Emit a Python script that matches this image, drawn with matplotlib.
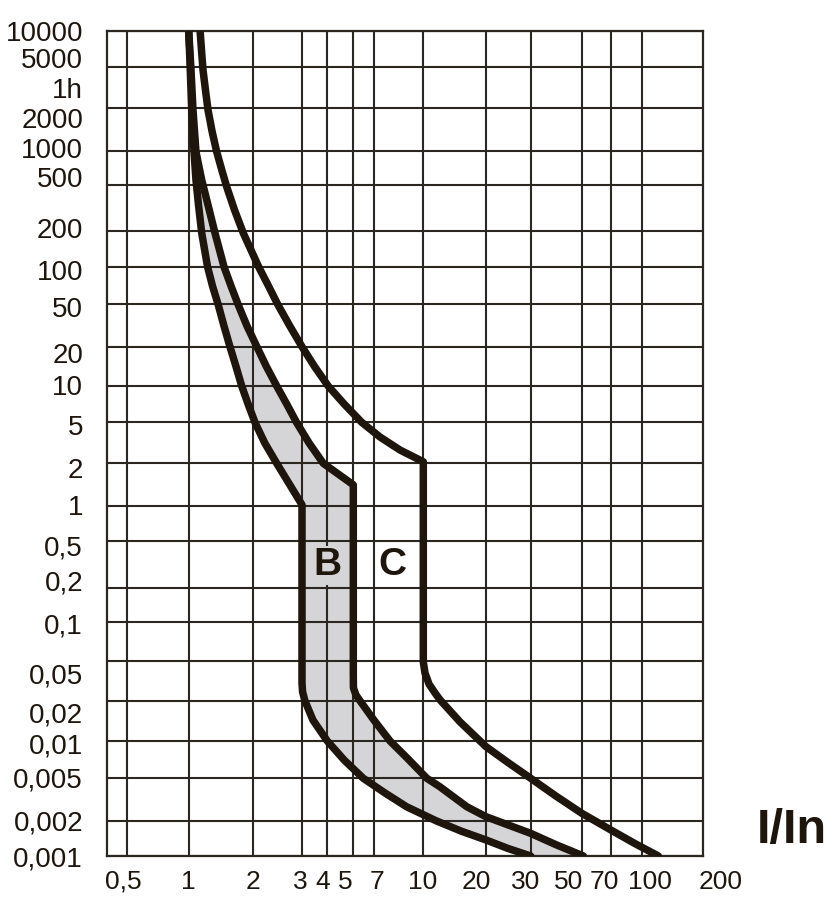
import numpy as np
import matplotlib
matplotlib.use('Agg')
import matplotlib.pyplot as plt

plt.rcParams['font.family'] = ['Liberation Sans', 'DejaVu Sans']

# tripping curves, I/In against seconds
b_low_x = [1.0, 1.017, 1.033, 1.059, 1.081, 1.111, 1.15, 1.224, 1.291, 1.374,
           1.46, 1.557, 1.661, 1.766, 1.89, 2.03, 2.2, 2.43, 3.0, 3.0,
           3.02, 3.1, 3.4, 4.0, 4.62, 5.88, 7.58, 8.87, 11.5, 15.2,
           20, 24.4, 30]
b_low_t = [10000, 4650, 1950, 980, 553, 335, 191, 100, 70, 49.2,
           31.3, 20, 14.1, 10, 7.1, 4.96, 3.15, 2, 1.02, 0.03,
           0.0245, 0.02, 0.0143, 0.01, 0.00703, 0.005, 0.00364, 0.0027, 0.002, 0.00163,
           0.00137, 0.00116, 0.001]

mid_x = [1.0, 1.025, 1.047, 1.081, 1.15, 1.23, 1.326, 1.46, 1.575, 1.703,
         1.869, 2.06, 2.23, 2.43, 2.64, 2.87, 3.25, 3.82, 5.0, 5.0,
         5.01, 5.22, 5.57, 7.0, 7.86, 8.89, 10.4, 12.0, 16.2, 20,
         30, 38.6, 51]
mid_t = [10000, 4650, 1950, 980, 553, 335, 191, 100, 70, 49.2,
         31.3, 20, 14.1, 10, 7.1, 4.96, 3.15, 2, 1.41, 0.0377,
         0.0268, 0.0228, 0.02, 0.0143, 0.01, 0.0073, 0.005, 0.00417, 0.0027, 0.00218,
         0.00156, 0.00125, 0.001]

c_x = [1.13, 1.147, 1.166, 1.197, 1.23, 1.284, 1.35, 1.422, 1.503, 1.635,
       1.796, 2.09, 2.27, 2.46, 2.71, 3.0, 3.46, 4.03, 4.62, 5.73,
       7.31, 8.45, 10, 10, 10.19, 10.65, 11.38, 12.03, 15.0, 20,
       24.4, 30, 38.6, 50, 70, 91, 115]
c_t = [10000, 6900, 4650, 2990, 1950, 1380, 980, 691, 483, 303,
       191, 100, 70, 49, 31.3, 20, 14.1, 10, 7.1, 5,
       3.6, 2.69, 2.07, 0.0485, 0.0377, 0.0293, 0.0239, 0.0204, 0.0139, 0.009,
       0.00671, 0.005, 0.00341, 0.00235, 0.00167, 0.00129, 0.001]

# grid values and labels
x_lines = [0.5, 1, 2, 3, 4, 5, 7, 10, 20, 30, 50, 70, 100]
x_labels = ['0,5', '1', '2', '3', '4', '5', '7', '10', '20', '30', '50', '70', '100']
y_lines = [10000, 5000, 2000, 1000, 500, 200, 100, 50, 20, 10, 5, 2, 1,
           0.5, 0.2, 0.1, 0.05, 0.02, 0.01, 0.005, 0.002, 0.001]
y_labels = ['10000', '5000', '1h', '2000', '1000', '500', '200', '100', '50', '20',
            '10', '5', '2', '1', '0,5', '0,2', '0,1', '0,05', '0,02', '0,01',
            '0,005', '0,002', '0,001']

# the printed sheet is not a clean log grid, so the axes follow it piecewise
x_anchor = [0.4] + x_lines + [200]
x_anchor_px = [106.7, 126.7, 188.7, 253.3, 302, 327.3, 353.3, 374, 423.3, 486,
               530.7, 581.7, 610.7, 642.3, 722]
y_anchor_px = [30.7, 66.7, 108.3, 150.7, 185, 230.7, 266.7, 304.3, 346.7, 386,
               422.3, 463.3, 506, 540.7, 587.5, 621.7, 660.7, 700.7, 741, 778.3,
               820.7, 856]
# where the printed labels sit (they drift off their lines on the sheet)
x_label_px = [123, 188, 253, 300.7, 322.5, 345, 376.7, 423, 476, 526, 569, 604, 650]
y_label_px = [30.7, 58, 88, 118, 148, 177, 228, 270, 307, 353, 385, 425, 468, 505,
              545, 580, 623, 673, 712, 743, 777, 820, 856]


def sheet_scale(vals, px, sign):
    lv = np.log10(np.asarray(vals, float))
    p = sign * np.asarray(px, float)
    o = np.argsort(lv)
    lv, p = lv[o], p[o]

    def fwd(v):
        with np.errstate(divide='ignore', invalid='ignore'):
            l = np.log10(np.asarray(v, float))
        l = np.where(np.isfinite(l), l, lv[0] - 5)
        return np.interp(l, lv, p)

    def inv(q):
        return 10 ** np.interp(q, p, lv)

    return fwd, inv


fx, ix = sheet_scale(x_anchor, x_anchor_px, 1)
fy, iy = sheet_scale(y_lines, y_anchor_px, -1)

ink = '#1e150c'
grid_c = '#2b2620'
fill_c = '#d5d5d8'

fig = plt.figure(figsize=(8.29, 9.05), dpi=100)
ax = fig.add_axes([106.7 / 829, 1 - 856 / 905, (702.7 - 106.7) / 829, (856 - 30.7) / 905])
ax.set_xscale('function', functions=(fx, ix))
ax.set_yscale('function', functions=(fy, iy))
ax.set_xlim(0.4, ix(702.7))
ax.set_ylim(0.001, 10000)

ax.fill(np.r_[b_low_x, mid_x[::-1]], np.r_[b_low_t, mid_t[::-1]],
        color=fill_c, lw=0, zorder=1)
for xs, ts in [(b_low_x, b_low_t), (mid_x, mid_t), (c_x, c_t)]:
    ax.plot(xs, ts, color=ink, lw=5.4, solid_capstyle='round',
            solid_joinstyle='round', zorder=3)

# grid on minor ticks, labels on major ticks
ax.xaxis.remove_overlapping_locs = False
ax.yaxis.remove_overlapping_locs = False
ax.set_xticks(x_lines, minor=True)
ax.set_yticks(y_lines, minor=True)
ax.set_xticks(ix(np.array(x_label_px)))
ax.set_xticklabels(x_labels)
ax.set_yticks(iy(-np.array(y_label_px)))
ax.set_yticklabels(y_labels)
ax.set_axisbelow(False)
ax.grid(which='minor', color=grid_c, lw=1.5)
ax.grid(which='major', visible=False)
ax.tick_params(which='both', length=0)
ax.tick_params(axis='y', which='major', pad=17, labelsize=20, labelcolor=ink)
ax.tick_params(axis='x', which='major', pad=10, labelsize=19, labelcolor=ink)
for s in ax.spines.values():
    s.set_color(grid_c)
    s.set_linewidth(1.6)

ax.annotate('200', xy=(200, 0), xycoords=('data', 'axes fraction'),
            xytext=(-1, -10), textcoords='offset points', ha='center', va='top',
            fontsize=19, color=ink, annotation_clip=False)

ax.text(4.0, 0.31, 'B', fontsize=28, fontweight='bold', color=ink,
        ha='center', va='center', zorder=4,
        bbox=dict(facecolor=fill_c, edgecolor='none', pad=1))
ax.text(8.0, 0.31, 'C', fontsize=28, fontweight='bold', color=ink,
        ha='center', va='center', zorder=4)

fig.text(757 / 829, 1 - 843 / 905, 'I/In', fontsize=35, fontweight='bold',
         color=ink, ha='left', va='baseline')

fig.savefig('out.png', dpi=100)
